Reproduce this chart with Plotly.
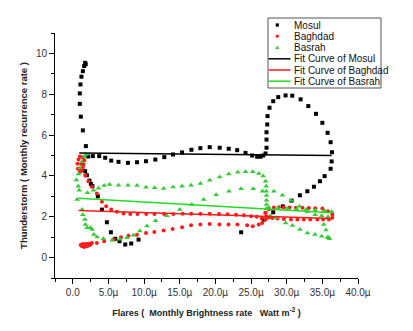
import plotly.graph_objects as go

# ---------------- data ----------------
mosul_x = [1.80, 1.73, 1.59, 1.41, 1.21, 1.07, 0.98, 0.98, 1.12, 1.41, 1.83, 2.15,
           2.81, 3.70, 4.54, 5.38, 6.41, 7.73, 9.00, 10.26, 11.57, 12.83, 14.05, 15.32, 16.63, 17.89,
           19.20, 20.60, 21.87, 23.05, 24.22, 25.16, 25.86, 26.32, 26.70, 27.03,
           27.17, 27.17, 27.17, 27.27, 27.31, 27.59, 28.11, 28.81, 29.84, 30.78, 31.95, 33.03, 34.10,
           35.00, 35.74, 36.16, 36.35, 36.30, 36.16,
           35.32, 34.66, 33.82, 32.89, 31.85, 30.68, 29.46, 28.11, 26.79, 23.61,
           1.73, 1.97, 2.33, 2.53, 2.75, 3.51, 4.08, 4.78, 5.34, 5.95, 6.55, 7.35, 8.19, 9.22]
mosul_y = [9.47, 9.54, 9.38, 9.13, 8.86, 8.48, 8.04, 7.53, 6.90, 6.23, 5.46, 4.95,
           4.97, 4.97, 4.89, 4.75, 4.69, 4.64, 4.67, 4.72, 4.80, 4.92, 5.05, 5.15, 5.28, 5.36,
           5.41, 5.38, 5.33, 5.26, 5.13, 5.00, 4.94, 4.94, 5.00, 5.10,
           5.38, 5.78, 6.14, 6.52, 6.93, 7.34, 7.66, 7.86, 7.94, 7.93, 7.75, 7.42, 7.04,
           6.60, 6.11, 5.65, 5.16, 4.71, 4.35,
           3.99, 3.74, 3.47, 3.25, 3.05, 2.79, 2.51, 2.22, 1.86, 1.24,
           4.23, 4.03, 3.77, 3.61, 3.50, 3.00, 2.35, 1.73, 1.24, 0.92, 0.80, 0.64, 0.69, 0.88]

baghdad_x = [1.00, 1.40, 1.60, 1.50, 1.30, 1.00, 0.70, 0.65, 0.80, 1.20, 1.40, 1.20,
             1.74, 2.19, 2.67, 3.37, 4.08, 4.68, 5.38, 6.18, 7.11, 8.05,
             9.07, 10.30, 11.45, 12.80, 14.10, 15.40, 16.60, 17.90, 19.20, 20.50, 21.70, 22.90, 24.00, 25.00, 25.80,
             26.50, 27.00, 27.50, 28.20, 28.90, 29.60, 30.40, 31.30, 32.20, 33.10, 34.00, 35.00, 35.78, 36.40, 36.40,
             35.92, 35.10, 34.30, 33.30, 32.40, 31.50, 30.60, 29.60, 28.70, 28.00, 27.50,
             1.10, 1.30, 1.60, 2.00, 2.30, 2.50, 2.20, 1.80, 1.40, 2.67,
             3.37, 4.40, 5.70, 6.75, 7.81, 9.00, 10.26, 11.43, 12.73, 14.00, 15.32, 16.58, 17.89, 19.20,
             20.56, 21.83, 23.09, 24.45, 25.24, 26.08, 26.56, 27.03, 27.13, 27.03]
baghdad_y = [4.95, 4.90, 4.75, 4.55, 4.35, 4.20, 4.35, 4.60, 4.80, 4.60, 4.40, 4.25,
             4.02, 3.74, 3.47, 3.14, 2.73, 2.51, 2.35, 2.24, 2.16, 2.14,
             2.14, 2.14, 2.14, 2.14, 2.14, 2.15, 2.15, 2.15, 2.15, 2.14, 2.12, 2.10, 2.07, 2.03, 2.00,
             1.92, 2.20, 2.37, 2.45, 2.47, 2.47, 2.45, 2.44, 2.44, 2.43, 2.42, 2.41, 2.27, 2.11, 1.95,
             1.86, 1.86, 1.86, 1.86, 1.86, 1.86, 1.86, 1.89, 1.92, 1.94, 1.96,
             0.62, 0.55, 0.52, 0.55, 0.60, 0.65, 0.68, 0.66, 0.66, 0.72,
             0.72, 0.80, 0.88, 0.99, 1.07, 1.12, 1.20, 1.25, 1.33, 1.40, 1.48, 1.58, 1.62, 1.65,
             1.62, 1.62, 1.62, 1.58, 1.53, 1.62, 1.70, 1.86, 2.02, 2.19]

basrah_x = [1.85, 1.60, 1.30, 1.00, 0.80, 0.50, 0.75, 0.90, 0.60,
            2.05, 2.90, 3.60, 4.40, 5.14, 6.41, 7.73, 9.00, 10.26, 11.47, 12.73, 14.05, 15.32, 16.58,
            17.89, 19.20, 20.60, 21.87, 23.13, 24.22, 25.24, 26.09, 26.70, 27.03, 27.13, 27.13, 27.17,
            27.17, 27.17, 27.17,
            1.30, 1.40, 1.69, 1.77, 2.00, 2.47, 2.71, 2.95,
            3.40, 4.30, 5.50, 6.60, 7.60, 8.50, 9.40, 10.40, 11.60, 13.20, 15.00, 16.70, 18.35, 20.10,
            21.90, 23.60, 25.30, 26.60,
            28.20, 29.40, 30.60, 31.80, 32.90, 34.00, 34.90, 35.80,
            35.20, 35.50, 35.90, 36.00,
            27.70, 28.50, 29.85, 30.80, 31.85, 32.90, 33.96, 34.90, 35.70,
            27.50, 28.80, 30.10, 31.40, 32.70, 34.00, 35.30, 36.30]
basrah_y = [5.05, 4.95, 4.70, 4.40, 4.10, 3.80, 3.50, 3.30, 2.85,
            3.17, 3.30, 3.40, 3.53, 3.58, 3.54, 3.54, 3.53, 3.45, 3.42, 3.38, 3.46, 3.50, 3.54,
            3.63, 3.79, 3.95, 4.10, 4.18, 4.20, 4.20, 4.12, 3.99, 3.74, 3.50, 3.25, 3.04,
            2.81, 2.60, 2.39,
            2.35, 2.10, 1.86, 1.62, 1.46, 1.46, 1.37, 1.13,
            1.01, 0.92, 0.85, 0.90, 0.97, 1.10, 1.30, 1.55, 1.80, 2.05, 2.35, 2.60, 2.84, 3.08,
            3.25, 3.37, 3.37, 3.25,
            3.25, 3.05, 2.80, 2.52, 2.25, 2.10, 2.05, 2.00,
            1.62, 1.35, 0.98, 0.92,
            2.05, 1.95, 1.70, 1.57, 1.37, 1.21, 1.13, 1.04, 0.98,
            2.45, 2.42, 2.40, 2.38, 2.36, 2.33, 2.30, 2.25]

fit_mosul_x = [0.9, 36.3]
fit_mosul_y = [5.12, 5.00]
fit_baghdad_x = [0.8, 36.3]
fit_baghdad_y = [2.31, 1.91]
fit_basrah_x = [0.8, 36.3]
fit_basrah_y = [2.91, 2.20]

series_names = ["Mosul", "Baghdad", "Basrah",
                "Fit Curve of Mosul", "Fit Curve of Baghdad", "Fit Curve of Basrah"]

x_tickvals = [0, 5, 10, 15, 20, 25, 30, 35, 40]
x_ticktext = ["0.0", "5.0µ", "10.0µ", "15.0µ", "20.0µ", "25.0µ", "30.0µ", "35.0µ", "40.0µ"]
x_minor = [-2.5, 2.5, 7.5, 12.5, 17.5, 22.5, 27.5, 32.5, 37.5]
y_tickvals = [0, 2, 4, 6, 8, 10]
y_minor = [-1, 1, 3, 5, 7, 9, 11]

# ---------------- styles ----------------
BLACK = "#000000"
RED = "#ff1a1a"
GREEN_M = "#33cc33"
GREEN_L = "#22dd22"
FONT = "Liberation Sans, Arial, sans-serif"

fig = go.Figure()
fig.add_trace(go.Scatter(x=mosul_x, y=mosul_y, mode="markers", name=series_names[0],
                         marker=dict(symbol="square", size=4, color=BLACK)))
fig.add_trace(go.Scatter(x=baghdad_x, y=baghdad_y, mode="markers", name=series_names[1],
                         marker=dict(symbol="circle", size=4, color=RED)))
fig.add_trace(go.Scatter(x=basrah_x, y=basrah_y, mode="markers", name=series_names[2],
                         marker=dict(symbol="triangle-up", size=5, color=GREEN_M)))
fig.add_trace(go.Scatter(x=fit_mosul_x, y=fit_mosul_y, mode="lines", name=series_names[3],
                         line=dict(color=BLACK, width=1.5)))
fig.add_trace(go.Scatter(x=fit_baghdad_x, y=fit_baghdad_y, mode="lines", name=series_names[4],
                         line=dict(color=RED, width=1.5)))
fig.add_trace(go.Scatter(x=fit_basrah_x, y=fit_basrah_y, mode="lines", name=series_names[5],
                         line=dict(color=GREEN_L, width=1.5)))

# plot area in pixels
W, H = 413, 331
L, R, T, B = 55, 55, 33, 53
pw, ph = W - L - R, H - T - B

def px_to_paper(px, py):
    return (px - L) / pw, (H - B - py) / ph

# custom compact legend (box + glyphs + text)
shapes = []
annotations = []
bx0, by0 = px_to_paper(268, 88)
bx1, by1 = px_to_paper(381, 18)
shapes.append(dict(type="rect", xref="paper", yref="paper", x0=bx0, x1=bx1, y0=by0, y1=by1,
                   line=dict(color="#555555", width=1), fillcolor="white", layer="above"))
row_y = [25, 36.2, 47.4, 58.8, 70.0, 81.2]
glyph_x = 277.3
for i, name in enumerate(series_names):
    gx, gy = px_to_paper(glyph_x, row_y[i])
    if i == 0:
        shapes.append(dict(type="rect", xref="paper", yref="paper", xsizemode="pixel", ysizemode="pixel",
                           xanchor=gx, yanchor=gy, x0=-1.6, x1=1.6, y0=-1.6, y1=1.6,
                           fillcolor=BLACK, line=dict(width=0), layer="above"))
    elif i == 1:
        shapes.append(dict(type="circle", xref="paper", yref="paper", xsizemode="pixel", ysizemode="pixel",
                           xanchor=gx, yanchor=gy, x0=-1.6, x1=1.6, y0=-1.6, y1=1.6,
                           fillcolor=RED, line=dict(width=0), layer="above"))
    elif i == 2:
        shapes.append(dict(type="path", xref="paper", yref="paper", xsizemode="pixel", ysizemode="pixel",
                           xanchor=gx, yanchor=gy, path="M-2,-1.5 L2,-1.5 L0,2 Z",
                           fillcolor=GREEN_M, line=dict(width=0), layer="above"))
    else:
        lx0, ly = px_to_paper(268.5, row_y[i])
        lx1, _ = px_to_paper(290.5, row_y[i])
        col = [BLACK, RED, GREEN_L][i - 3]
        shapes.append(dict(type="line", xref="paper", yref="paper", x0=lx0, x1=lx1, y0=ly, y1=ly,
                           line=dict(color=col, width=1.5), layer="above"))
    tx, ty = px_to_paper(291.5, row_y[i])
    annotations.append(dict(xref="paper", yref="paper", x=tx, y=ty, xanchor="left", yanchor="middle",
                            text=name, showarrow=False, font=dict(family=FONT, size=10, color="#111111")))

fig.update_layout(
    width=W, height=H,
    margin=dict(l=L, r=R, t=T, b=B, pad=0),
    paper_bgcolor="white", plot_bgcolor="white",
    showlegend=False,
    shapes=shapes, annotations=annotations,
    font=dict(family=FONT, size=10, color="#222222"),
    xaxis=dict(range=[-2.5, 40], showgrid=False, zeroline=False, showline=True, linecolor=BLACK, linewidth=1,
               ticks="outside", ticklen=5, tickwidth=1, tickcolor=BLACK,
               tickmode="array", tickvals=x_tickvals, ticktext=x_ticktext,
               tickfont=dict(family=FONT, size=10, color="#333333"),
               minor=dict(tickmode="array", tickvals=x_minor, ticks="outside", ticklen=3, tickcolor=BLACK),
               title=dict(text="<b>Flares (  Monthly Brightness rate   Watt m<sup>-2</sup> )</b>",
                          font=dict(family=FONT, size=9, color="#222222"), standoff=12)),
    yaxis=dict(range=[-1, 11], showgrid=False, zeroline=False, showline=True, linecolor=BLACK, linewidth=1,
               ticks="outside", ticklen=5, tickwidth=1, tickcolor=BLACK,
               tickmode="array", tickvals=y_tickvals,
               tickfont=dict(family=FONT, size=10, color="#333333"),
               minor=dict(tickmode="array", tickvals=y_minor, ticks="outside", ticklen=3, tickcolor=BLACK),
               title=dict(text="<b>Thunderstorm ( Monthly recurrence rate )</b>",
                          font=dict(family=FONT, size=9.5, color="#222222"), standoff=6)),
)

fig.write_html("out.html")
